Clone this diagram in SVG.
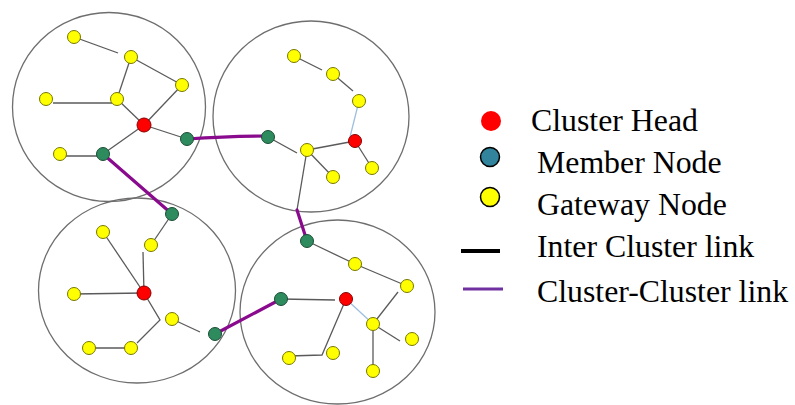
<svg xmlns="http://www.w3.org/2000/svg" width="795" height="405" viewBox="0 0 795 405">
<style>
.cl{fill:none;stroke:#6e6e6e;stroke-width:1.3}
.e{stroke:#5a5a5a;stroke-width:1.3;fill:none}
.b{stroke:#9dbfe0;stroke-width:1.3}
.p{stroke:#8a0a8e;stroke-width:3.2;stroke-linecap:round}
.y{fill:#ffff00;stroke:#777700;stroke-width:1}
.r{fill:#ff0000;stroke:#880000;stroke-width:1}
.g{fill:#2e8b5e;stroke:#1b4d35;stroke-width:1}
.t{font-family:"Liberation Serif","Times New Roman",serif;font-size:31.8px;fill:#000}
</style>
<rect width="795" height="405" fill="#fff"/>
<g id="clusters">
<ellipse id="cluster1" class="cl" cx="109" cy="107" rx="96.5" ry="94.5"/>
<ellipse id="cluster2" class="cl" cx="311" cy="116.5" rx="98" ry="95.5"/>
<ellipse id="cluster3" class="cl" cx="137" cy="290.5" rx="98.5" ry="92.5"/>
<ellipse id="cluster4" class="cl" cx="337.5" cy="312" rx="97.5" ry="92"/>
</g>
<g id="connectors">
<line class="e" x1="74" y1="37" x2="118" y2="53"/>
<line class="e" x1="131" y1="57" x2="182" y2="85"/>
<line class="e" x1="131" y1="57" x2="117" y2="99"/>
<line class="e" x1="53" y1="103" x2="112" y2="103"/>
<line class="e" x1="117" y1="99" x2="144" y2="125"/>
<line class="e" x1="182" y1="85" x2="144" y2="125"/>
<line class="e" x1="144" y1="125" x2="187" y2="139"/>
<line class="e" x1="144" y1="125" x2="103" y2="154"/>
<line class="e" x1="60" y1="156" x2="103" y2="156"/>
<line class="e" x1="294" y1="56" x2="322" y2="70"/>
<line class="e" x1="333" y1="74" x2="353" y2="91"/>
<line class="b" x1="359" y1="101" x2="350" y2="137"/>
<line class="e" x1="355" y1="141" x2="307" y2="150"/>
<line class="e" x1="355" y1="141" x2="372" y2="168"/>
<line class="e" x1="307" y1="150" x2="333" y2="177"/>
<line class="e" x1="268" y1="137" x2="297" y2="153"/>
<line class="e" x1="307" y1="150" x2="297" y2="210"/>
<line class="e" x1="172" y1="214" x2="151" y2="245"/>
<line class="e" x1="103" y1="232" x2="144" y2="293"/>
<line class="e" x1="143" y1="252" x2="144" y2="293"/>
<line class="e" x1="74" y1="294" x2="144" y2="293"/>
<polyline class="e" points="144,293 160,320 137,343"/>
<line class="e" x1="89" y1="348" x2="131" y2="348"/>
<line class="e" x1="172" y1="319" x2="200" y2="332"/>
<line class="e" x1="307" y1="241" x2="355" y2="264"/>
<line class="e" x1="355" y1="264" x2="407" y2="286"/>
<line class="e" x1="398" y1="292" x2="373" y2="324"/>
<line class="e" x1="281" y1="299" x2="335" y2="300"/>
<line class="b" x1="346" y1="299" x2="373" y2="324"/>
<polyline class="e" points="346,299 322,355 289,356"/>
<line class="e" x1="373" y1="324" x2="400" y2="341"/>
<line class="e" x1="373" y1="324" x2="373" y2="371"/>
<path class="p" d="M187,139 Q230,136 268,136" fill="none"/>
<line class="p" x1="103" y1="154" x2="172" y2="214"/>
<line class="p" x1="297" y1="210" x2="307" y2="241"/>
<line class="p" x1="215" y1="334" x2="281" y2="299"/>
</g>
<g id="nodes1">
<circle class="y" cx="74" cy="37" r="6.5"/>
<circle class="y" cx="131" cy="57" r="6.5"/>
<circle class="y" cx="182" cy="85" r="6.5"/>
<circle class="y" cx="46" cy="99" r="6.5"/>
<circle class="y" cx="117" cy="99" r="6.5"/>
<circle class="r" cx="144" cy="125" r="7"/>
<circle class="g" cx="187" cy="139" r="6.5"/>
<circle class="y" cx="60" cy="154" r="6.5"/>
<circle class="g" cx="103" cy="154" r="6.5"/>
</g>
<g id="nodes2">
<circle class="y" cx="294" cy="56" r="6.5"/>
<circle class="y" cx="333" cy="74" r="6.5"/>
<circle class="y" cx="359" cy="101" r="6.5"/>
<circle class="r" cx="355" cy="141" r="6.5"/>
<circle class="g" cx="268" cy="137" r="6.5"/>
<circle class="y" cx="307" cy="150" r="6.5"/>
<circle class="y" cx="372" cy="168" r="6.5"/>
<circle class="y" cx="333" cy="177" r="6.5"/>
</g>
<g id="nodes3">
<circle class="g" cx="172" cy="214" r="6.5"/>
<circle class="y" cx="103" cy="232" r="6.5"/>
<circle class="y" cx="151" cy="245" r="6.5"/>
<circle class="y" cx="74" cy="294" r="6.5"/>
<circle class="r" cx="144" cy="293" r="7"/>
<circle class="y" cx="172" cy="319" r="6.5"/>
<circle class="g" cx="215" cy="334" r="6.5"/>
<circle class="y" cx="89" cy="348" r="6.5"/>
<circle class="y" cx="131" cy="348" r="6.5"/>
</g>
<g id="nodes4">
<circle class="g" cx="307" cy="241" r="6.5"/>
<circle class="y" cx="355" cy="264" r="6.5"/>
<circle class="y" cx="407" cy="286" r="6.5"/>
<circle class="g" cx="281" cy="299" r="6.5"/>
<circle class="r" cx="346" cy="299" r="6.5"/>
<circle class="y" cx="373" cy="324" r="6.5"/>
<circle class="y" cx="412" cy="339" r="6.5"/>
<circle class="y" cx="289" cy="358" r="6.5"/>
<circle class="y" cx="333" cy="353" r="6.5"/>
<circle class="y" cx="373" cy="371" r="6.5"/>
</g>
<g id="legend">
<circle cx="491" cy="121" r="10" fill="#ff0000"/>
<text class="t" x="531" y="131">Cluster Head</text>
<circle cx="490" cy="157" r="9.5" fill="#31849b" stroke="#000" stroke-width="1.5"/>
<text class="t" x="537" y="173">Member Node</text>
<circle cx="490" cy="197" r="9.5" fill="#ffff00" stroke="#000" stroke-width="1.5"/>
<text class="t" x="537" y="215">Gateway Node</text>
<line x1="461" y1="251" x2="500" y2="251" stroke="#000" stroke-width="4"/>
<text class="t" x="537" y="257">Inter Cluster link</text>
<line x1="463" y1="289" x2="503" y2="289" stroke="#7030a0" stroke-width="3"/>
<text class="t" x="537" y="302">Cluster-Cluster link</text>
</g>
</svg>
